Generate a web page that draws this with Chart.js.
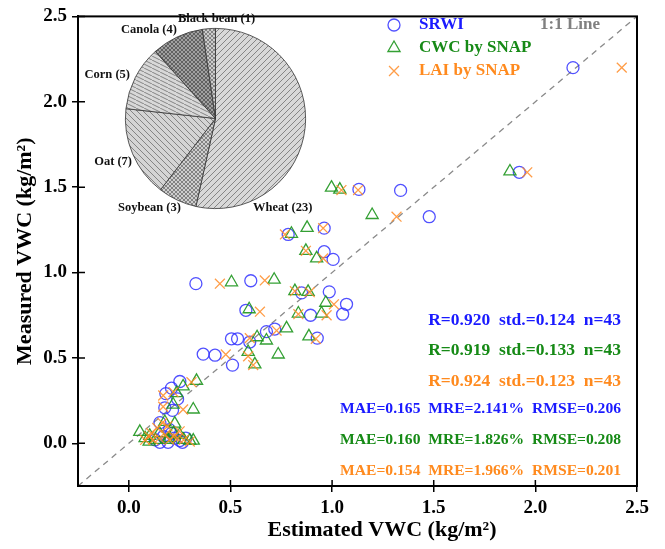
<!DOCTYPE html>
<html><head><meta charset="utf-8">
<script src="https://cdn.jsdelivr.net/npm/chart.js@4"></script>
<style>
html,body{margin:0;padding:0;background:#fff;}
#wrap{position:relative;width:665px;height:549px;background:#fff;}
#main{position:absolute;left:0;top:0;}
#pie{position:absolute;left:80px;top:12px;}
</style></head><body>
<div id="wrap"><canvas id="main" width="665" height="549"></canvas><canvas id="pie" width="240" height="210"></canvas></div>
<script>
// ---------- data ----------
const seriesNames = ['SRWI', 'CWC by SNAP', 'LAI by SNAP'];
const srwiEst  = [2.185,1.921,1.132,1.337,1.478,0.784,0.961,0.961,1.005,0.850,0.986,1.071,0.894,1.052,0.330,0.600,0.576,0.718,0.677,0.505,0.535,0.595,0.927,0.366,0.424,0.510,0.251,0.210,0.182,0.177,0.215,0.153,0.210,0.153,0.193,0.251,0.264,0.225,0.130,0.170,0.200,0.240,0.280];
const srwiMeas = [2.200,1.587,1.487,1.481,1.327,1.223,1.260,1.122,1.077,0.881,0.887,0.814,0.750,0.756,0.935,0.952,0.779,0.669,0.654,0.612,0.612,0.593,0.616,0.522,0.516,0.458,0.362,0.323,0.291,0.208,0.193,0.121,0.058,0.006,0.006,0.016,0.006,0.030,0.020,0.040,0.080,0.260,0.030];
const cwcEst   = [1.875,0.997,1.038,1.197,0.800,0.877,0.871,0.924,0.817,0.882,0.969,0.834,0.948,0.505,0.715,0.592,0.776,0.677,0.631,0.886,0.587,0.735,0.620,0.333,0.267,0.235,0.218,0.317,0.177,0.226,0.054,0.103,0.300,0.317,0.080,0.130,0.200,0.250,0.150,0.270,0.100,0.190,0.220];
const cwcMeas  = [1.592,1.497,1.486,1.337,1.227,1.262,1.127,1.083,0.891,0.887,0.823,0.760,0.760,0.943,0.958,0.785,0.673,0.602,0.621,0.626,0.535,0.520,0.462,0.366,0.333,0.294,0.227,0.198,0.125,0.115,0.067,0.044,0.016,0.016,0.030,0.020,0.030,0.050,0.060,0.020,0.010,0.020,0.060];
const laiEst   = [2.425,1.960,1.046,1.128,1.317,0.768,0.956,0.871,0.956,0.817,0.890,1.009,0.834,0.973,0.448,0.669,0.645,0.727,0.595,0.920,0.587,0.477,0.612,0.308,0.220,0.169,0.169,0.267,0.165,0.100,0.120,0.150,0.180,0.200,0.220,0.240,0.270,0.300,0.110,0.140,0.190,0.250,0.080];
const laiMeas  = [2.200,1.587,1.483,1.483,1.327,1.223,1.260,1.127,1.083,0.891,0.885,0.814,0.756,0.750,0.935,0.954,0.771,0.660,0.616,0.612,0.510,0.520,0.458,0.358,0.300,0.280,0.214,0.198,0.120,0.040,0.020,0.030,0.050,0.020,0.040,0.030,0.020,0.010,0.060,0.090,0.100,0.070,0.020];
const oneToOne = [-0.25, 2.5];
const xTickVals = [0.0, 0.5, 1.0, 1.5, 2.0, 2.5];
const yTickVals = [0.0, 0.5, 1.0, 1.5, 2.0, 2.5];
const xTitle = 'Estimated VWC (kg/m\u00B2)';
const yTitle = 'Measured VWC (kg/m\u00B2)';
const lineLabel = '1:1 Line';
const statsR = ['R=0.920  std.=0.124  n=43', 'R=0.919  std.=0.133  n=43', 'R=0.924  std.=0.123  n=43'];
const statsE = ['MAE=0.165  MRE=2.141%  RMSE=0.206', 'MAE=0.160  MRE=1.826%  RMSE=0.208', 'MAE=0.154  MRE=1.966%  RMSE=0.201'];
const cropNames  = ['Wheat', 'Soybean', 'Oat', 'Corn', 'Canola', 'Black bean'];
const cropCounts = [23, 3, 7, 5, 4, 1];

// ---------- styles ----------
const FONT = 'Liberation Serif';
Chart.defaults.font.family = FONT;
const markerColors = ['rgba(50,50,255,0.85)', 'rgba(30,150,30,0.9)', 'rgba(255,140,40,0.85)'];
const textColors = ['#1a1aff', '#168a16', '#ff8a1e'];
const toPts = (xs, ys) => xs.map((v, i) => ({x: v, y: ys[i]}));

const frameAndTicks = {
  id: 'frameAndTicks',
  afterDatasetsDraw(chart) {
    const {ctx, chartArea: a, scales: {x, y}} = chart;
    ctx.save();
    ctx.strokeStyle = '#000';
    ctx.lineWidth = 2;
    ctx.strokeRect(a.left, a.top, a.right - a.left, a.bottom - a.top);
    ctx.lineWidth = 1.5;
    ctx.beginPath();
    xTickVals.forEach(v => { const px = x.getPixelForValue(v); ctx.moveTo(px, a.bottom); ctx.lineTo(px, a.bottom - 6); });
    yTickVals.forEach(v => { const py = y.getPixelForValue(v); ctx.moveTo(a.left, py); ctx.lineTo(a.left + 7, py); });
    ctx.stroke();
    // x-axis title
    ctx.fillStyle = '#000';
    ctx.font = 'bold 22px ' + FONT;
    ctx.textAlign = 'center'; ctx.textBaseline = 'middle';
    ctx.fillText(xTitle, 382, 530);
    ctx.restore();
  }
};

const legendAndText = {
  id: 'legendAndText',
  afterDraw(chart) {
    const {ctx} = chart;
    ctx.save();
    [0, 1, 2].forEach(i => {
      const ds = chart.data.datasets[i];
      const ly = 25 + i * 23;
      ctx.strokeStyle = ds.borderColor; ctx.fillStyle = 'rgba(0,0,0,0)'; ctx.lineWidth = ds.borderWidth;
      Chart.helpers.drawPoint(ctx, {pointStyle: ds.pointStyle, radius: ds.pointRadius, borderWidth: ds.borderWidth, rotation: 0}, 394, ly);
      ctx.font = 'bold 17px ' + FONT;
      ctx.textBaseline = 'middle'; ctx.textAlign = 'left';
      ctx.fillStyle = textColors[i];
      ctx.fillText(ds.label, 419, ly);
    });
    ctx.fillStyle = '#808080';
    ctx.font = 'bold 17px ' + FONT;
    ctx.textBaseline = 'middle'; ctx.textAlign = 'left';
    ctx.fillText(lineLabel, 540, 25);
    // stats
    ctx.textAlign = 'right';
    ctx.font = 'bold 17.5px ' + FONT;
    statsR.forEach((t, i) => { ctx.fillStyle = textColors[i]; ctx.fillText(t, 621, 320 + i * 30.7); });
    ctx.font = 'bold 15.6px ' + FONT;
    statsE.forEach((t, i) => { ctx.fillStyle = textColors[i]; ctx.fillText(t, 621, 409 + i * 30.8); });
    ctx.restore();
  }
};

const tickFont = {size: 19, weight: 'bold', family: FONT};
const titleFont = {size: 22, weight: 'bold', family: FONT, lineHeight: 1.2};

new Chart(document.getElementById('main'), {
  type: 'scatter',
  data: {
    datasets: [
      {label: seriesNames[0], data: toPts(srwiEst, srwiMeas), pointStyle: 'circle', pointRadius: 6, borderColor: markerColors[0], backgroundColor: 'rgba(0,0,0,0)', borderWidth: 1.3, order: 3},
      {label: seriesNames[1], data: toPts(cwcEst, cwcMeas), pointStyle: 'triangle', pointRadius: 7, borderColor: markerColors[1], backgroundColor: 'rgba(0,0,0,0)', borderWidth: 1.3, order: 2},
      {label: seriesNames[2], data: toPts(laiEst, laiMeas), pointStyle: 'crossRot', pointRadius: 7, borderColor: markerColors[2], backgroundColor: 'rgba(0,0,0,0)', borderWidth: 1.3, order: 1},
      {label: lineLabel, type: 'line', data: toPts(oneToOne, oneToOne), borderColor: '#8a8a8a', borderWidth: 1.3, borderDash: [6, 5], pointRadius: 0, fill: false, order: 4}
    ]
  },
  options: {
    responsive: false, animation: false, devicePixelRatio: 1,
    layout: {padding: {top: 11, right: 28, left: 0, bottom: 0}},
    plugins: {legend: {display: false}, tooltip: {enabled: false}},
    scales: {
      x: {
        type: 'linear', min: -0.25, max: 2.5,
        afterBuildTicks: s => { s.ticks = xTickVals.map(v => ({value: v})); },
        afterFit: s => { s.height = 63; },
        grid: {drawOnChartArea: false, color: '#000', lineWidth: 1.5, tickLength: 6},
        border: {display: true, color: '#000', width: 2},
        ticks: {color: '#000', font: tickFont, padding: 5, callback: v => Number(v).toFixed(1), maxRotation: 0},
        title: {display: false, text: xTitle}
      },
      y: {
        type: 'linear', min: -0.25, max: 2.5,
        afterBuildTicks: s => { s.ticks = yTickVals.map(v => ({value: v})); },
        afterFit: s => { s.width = 78; },
        grid: {drawOnChartArea: false, color: '#000', lineWidth: 1.5, tickLength: 6},
        border: {display: true, color: '#000', width: 2},
        ticks: {color: '#000', font: tickFont, padding: 5, callback: v => Number(v).toFixed(1)},
        title: {display: true, text: yTitle, color: '#000', font: titleFont, padding: {top: 12, bottom: 0}}
      }
    }
  },
  plugins: [frameAndTicks, legendAndText]
});

// ---------- pie ----------
function makePattern(kind) {
  const c = document.createElement('canvas');
  const s = kind === 'corn' ? 8 : (kind === 'soy' || kind === 'canola' || kind === 'bean') ? 4 : 6;
  c.width = s; c.height = (kind === 'corn') ? 4 : s;
  const g = c.getContext('2d');
  const bg = {wheat: '#d8d8d8', soy: '#cfcfcf', oat: '#d4d4d4', corn: '#d8d8d8', canola: '#a0a0a0', bean: '#cccccc'}[kind];
  g.fillStyle = bg; g.fillRect(0, 0, c.width, c.height);
  g.strokeStyle = kind === 'canola' ? '#505050' : '#707070';
  g.lineWidth = 0.8;
  g.beginPath();
  const w = c.width, h = c.height;
  if (kind === 'wheat') {
    for (let k = -1; k <= 1; k++) { g.moveTo(k * w, h); g.lineTo(k * w + w, 0); }
  } else if (kind === 'oat' || kind === 'corn') {
    for (let k = -1; k <= 1; k++) { g.moveTo(k * w, 0); g.lineTo(k * w + w, h); }
  } else {
    for (let k = -1; k <= 1; k++) { g.moveTo(k * w, h); g.lineTo(k * w + w, 0); g.moveTo(k * w, 0); g.lineTo(k * w + w, h); }
  }
  g.stroke();
  return g.createPattern(c, 'repeat');
}
const pieCtx = document.getElementById('pie').getContext('2d');
const piePatterns = ['wheat', 'soy', 'oat', 'corn', 'canola', 'bean'].map(makePattern);
const pieLabelPos = [[173, 196, 'left'], [38, 196, 'left'], [52, 150, 'right'], [50, 63, 'right'], [41, 18, 'left'], [98, 7, 'left']];
const pieLabels = {
  id: 'pieLabels',
  afterDraw(chart) {
    const ctx = chart.ctx;
    ctx.save();
    ctx.font = 'bold 12.5px ' + FONT;
    ctx.fillStyle = '#111';
    ctx.textBaseline = 'middle';
    cropNames.forEach((n, i) => {
      const p = pieLabelPos[i];
      ctx.textAlign = p[2];
      ctx.fillText(n + ' (' + cropCounts[i] + ')', p[0], p[1]);
    });
    ctx.restore();
  }
};
new Chart(pieCtx, {
  type: 'pie',
  data: {labels: cropNames, datasets: [{data: cropCounts, backgroundColor: piePatterns, borderColor: '#333', borderWidth: 0.8}]},
  options: {
    responsive: false, animation: false, devicePixelRatio: 1,
    layout: {padding: {left: 45, right: 14, top: 16, bottom: 13}},
    plugins: {legend: {display: false}, tooltip: {enabled: false}}
  },
  plugins: [pieLabels]
});
</script></body></html>
